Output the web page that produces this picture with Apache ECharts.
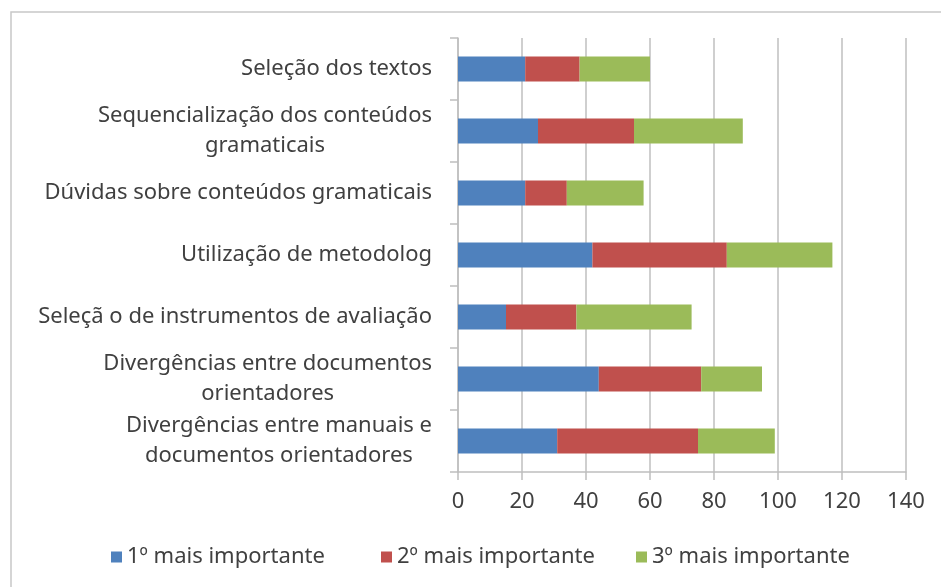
<!DOCTYPE html>
<html>
<head>
<meta charset="utf-8">
<script src="https://cdn.jsdelivr.net/npm/echarts@6/dist/echarts.min.js"></script>
<style>
  html, body { margin: 0; padding: 0; background: #fff; }
  #chart { width: 941px; height: 587px; }
</style>
</head>
<body>
<div id="chart"></div>
<script>
// categories, top to bottom
var categories = [
  'Seleção dos textos',
  'Sequencialização dos conteúdos\ngramaticais',
  'Dúvidas sobre conteúdos gramaticais',
  'Utilização de metodolog',
  'Seleçã o de instrumentos de avaliação',
  'Divergências entre documentos\norientadores',
  'Divergências entre manuais e\ndocumentos orientadores'
]
var seriesNames = ['1º mais importante', '2º mais importante', '3º mais importante']
var first = [21, 25, 21, 42, 15, 44, 31]
var second = [17, 30, 13, 42, 22, 32, 44]
var third = [22, 34, 24, 33, 36, 19, 24]
var xTicks = [0, 20, 40, 60, 80, 100, 120, 140]

var colors = ['#4f81bd', '#c0504d', '#9bbb59']
var txt = '#404040'
var fnt = 'Noto Sans'
var fs = 22

var myChart = echarts.init(document.getElementById('chart'))

function bar(name, data, i) {
  return {
    name: name,
    type: 'bar',
    stack: 'total',
    barWidth: 25,
    itemStyle: { color: colors[i] },
    data: data
  }
}

// one legend per series so each can sit where the original has it
var legendLeft = [106, 376, 631]
var legends = seriesNames.map(function (n, i) {
  return {
    left: legendLeft[i],
    top: 541,
    itemWidth: 11,
    itemHeight: 11,
    itemGap: 5,
    icon: 'rect',
    textStyle: { fontSize: fs, color: txt, fontFamily: fnt },
    data: [n]
  }
})

var option = {
  animation: false,
  textStyle: { fontFamily: fnt },
  graphic: [{
    type: 'rect',
    shape: { x: 11, y: 12, width: 1000, height: 1000 },
    style: { fill: 'none', stroke: '#c8c8c8', lineWidth: 1.5 },
    silent: true
  }],
  grid: { left: 458, right: 35, top: 38, bottom: 115 },
  legend: legends,
  xAxis: {
    type: 'value',
    min: xTicks[0],
    max: xTicks[xTicks.length - 1],
    interval: 20,
    axisLine: { show: true, lineStyle: { color: '#bfbfbf', width: 1.5 } },
    axisTick: { show: true, length: 8, lineStyle: { color: '#bfbfbf', width: 1.5 } },
    splitLine: { lineStyle: { color: '#bfbfbf', width: 1.5 } },
    axisLabel: { fontSize: fs, color: txt, margin: 19, fontFamily: fnt }
  },
  yAxis: {
    type: 'category',
    inverse: true,
    data: categories,
    axisLine: { show: true, lineStyle: { color: '#bfbfbf', width: 1.5 } },
    axisTick: { show: true, length: 8, lineStyle: { color: '#bfbfbf', width: 1.5 } },
    axisLabel: {
      fontSize: fs,
      color: txt,
      margin: 26,
      lineHeight: 30,
      fontFamily: fnt,
      formatter: function (v) {
        return v.split('\n').map(function (s) { return '{c|' + s + '}' }).join('\n')
      },
      rich: { c: { align: 'center', fontSize: fs, lineHeight: 30, color: txt, fontFamily: fnt } }
    }
  },
  series: [
    bar(seriesNames[0], first, 0),
    bar(seriesNames[1], second, 1),
    bar(seriesNames[2], third, 2)
  ]
}

myChart.setOption(option)
window.onresize = function () {
  myChart.resize()
}
</script>
</body>
</html>
